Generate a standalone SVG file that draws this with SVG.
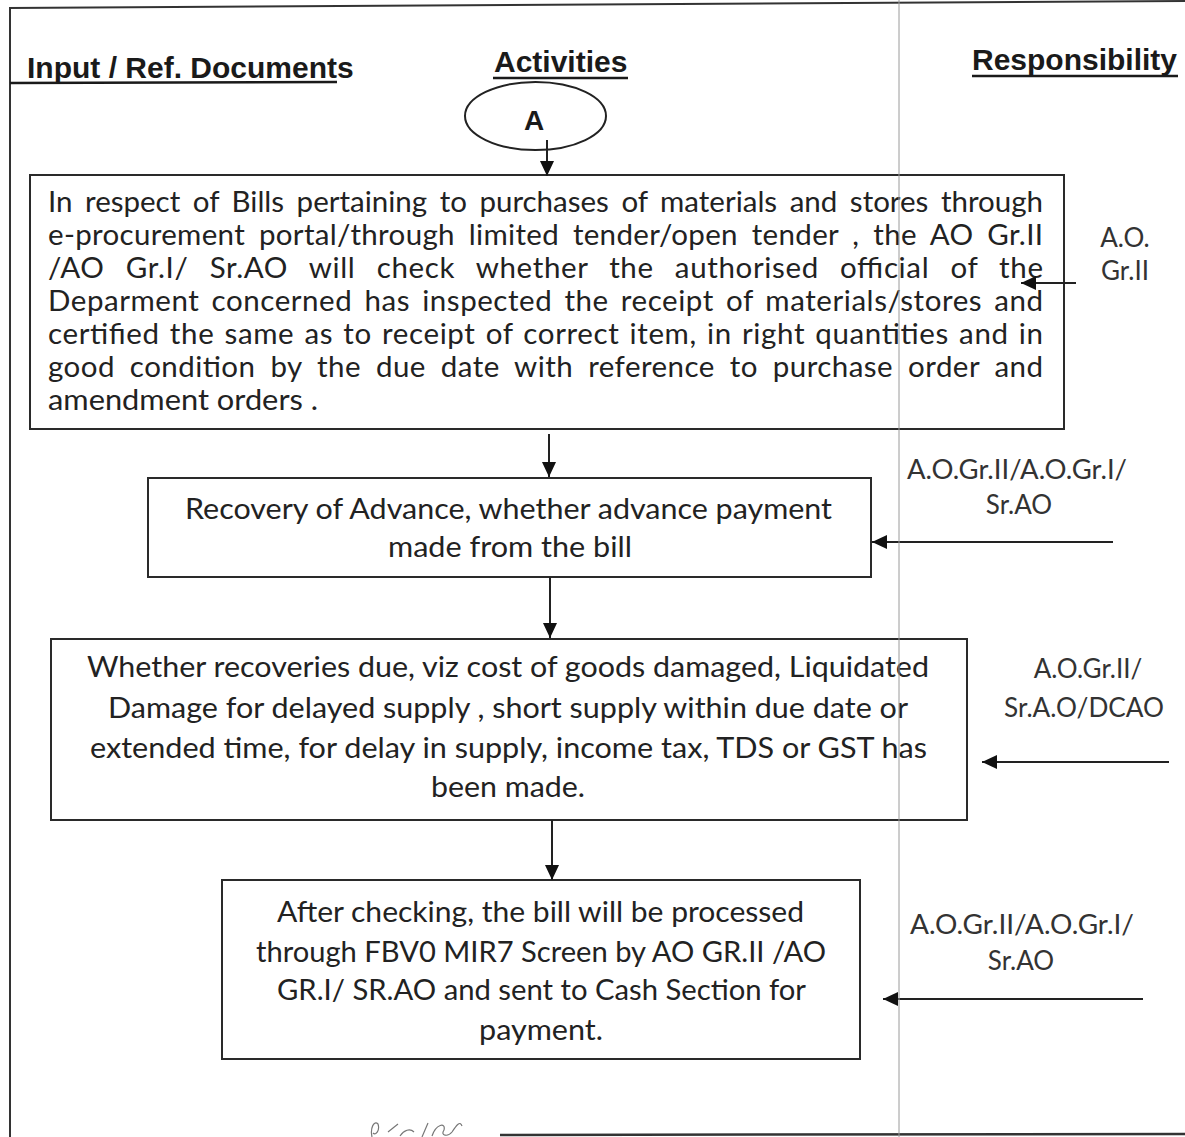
<svg xmlns="http://www.w3.org/2000/svg" width="1185" height="1137" viewBox="0 0 1185 1137">
<defs>
<style>
.hdr{font-family:"Liberation Sans",Arial,sans-serif;font-weight:bold;font-size:30px;fill:#1a1a1a}
.ul{stroke:#1a1a1a;stroke-width:2.5}
.box{fill:none;stroke:#2a2a2a;stroke-width:2}
.t{font-family:Lato,"Open Sans",sans-serif;fill:#222}
.b1{font-size:29.5px}
.b2{font-size:29px}
.rs{font-family:Lato,"Open Sans",sans-serif;font-size:26px;fill:#333;text-anchor:middle}
.c{text-anchor:middle}
.con{stroke:#222;stroke-width:2;fill:none}
.frame{stroke:#333;stroke-width:2;fill:none}
</style>
<marker id="ah" markerUnits="userSpaceOnUse" markerWidth="16" markerHeight="14" refX="15" refY="7" orient="auto">
<path d="M0,0 L15,7 L0,14 z" fill="#111"/>
</marker>
</defs>
<rect width="1185" height="1137" fill="#ffffff"/>
<g id="frame">
<line class="frame" x1="9" y1="8" x2="1185" y2="1"/>
<line class="frame" x1="10" y1="7" x2="10" y2="1137"/>
<line x1="500" y1="1135" x2="1185" y2="1134" stroke="#333" stroke-width="2.5"/>
<path d="M372,1137 C370,1128 374,1120 378,1124 C380,1130 376,1136 373,1133 M388,1132 L398,1124 M400,1136 C404,1130 410,1128 414,1132 M422,1137 L428,1123 M432,1136 C436,1124 446,1122 444,1130 C440,1136 448,1137 452,1132 C456,1126 460,1120 462,1126" stroke="#777" stroke-width="1.2" fill="none"/>
</g>
<g id="headers">
<text class="hdr" x="27" y="78">Input / Ref. Documents</text>
<line class="ul" x1="10" y1="83" x2="337" y2="82"/>
<text class="hdr" x="494" y="72">Activities</text>
<line class="ul" x1="493" y1="78" x2="628" y2="78"/>
<text class="hdr" x="972" y="70">Responsibility</text>
<line class="ul" x1="972" y1="76" x2="1178" y2="76"/>
</g>
<g id="nodeA">
<ellipse cx="535.5" cy="116" rx="70.5" ry="34" fill="none" stroke="#222" stroke-width="2"/>
<text x="534" y="130" font-family="'Liberation Sans',Arial,sans-serif" font-weight="bold" font-size="28" fill="#1a1a1a" text-anchor="middle">A</text>
</g>
<g id="box1">
<rect class="box" x="30" y="175" width="1034" height="254"/>
<text class="t b1" x="48" y="212" word-spacing="5" textLength="995" lengthAdjust="spacing">In respect of Bills pertaining to purchases of materials and stores through</text>
<text class="t b1" x="48" y="245" word-spacing="6" textLength="995" lengthAdjust="spacing">e-procurement portal/through limited tender/open tender , the AO Gr.II</text>
<text class="t b1" x="48" y="278" word-spacing="13" textLength="995" lengthAdjust="spacing">/AO Gr.I/ Sr.AO will check whether the authorised official of the</text>
<text class="t b1" x="48" y="311" word-spacing="4" textLength="995" lengthAdjust="spacing">Deparment concerned has inspected the receipt of materials/stores and</text>
<text class="t b1" x="48" y="344" word-spacing="2" textLength="995" lengthAdjust="spacing">certified the same as to receipt of correct item, in right  quantities and in</text>
<text class="t b1" x="48" y="377" word-spacing="7" textLength="995" lengthAdjust="spacing">good condition by the due date with reference to purchase order and</text>
<text class="t b1" x="48" y="410" textLength="270" lengthAdjust="spacingAndGlyphs">amendment orders .</text>
</g>
<g id="box2">
<rect class="box" x="148" y="478" width="723" height="99"/>
<text class="t b2 c" x="508.5" y="519" textLength="647" lengthAdjust="spacingAndGlyphs">Recovery of Advance, whether advance payment</text>
<text class="t b2 c" x="510" y="557" textLength="244" lengthAdjust="spacingAndGlyphs">made from the bill</text>
</g>
<g id="box3">
<rect class="box" x="51" y="639" width="916" height="181"/>
<text class="t b2 c" x="508" y="677" textLength="842" lengthAdjust="spacingAndGlyphs">Whether recoveries due, viz cost of goods damaged, Liquidated</text>
<text class="t b2 c" x="508" y="718" textLength="800" lengthAdjust="spacingAndGlyphs">Damage for delayed supply , short supply within due date or</text>
<text class="t b2 c" x="508.5" y="758" textLength="837" lengthAdjust="spacingAndGlyphs">extended time, for delay in supply, income tax, TDS  or GST has</text>
<text class="t b2 c" x="508" y="797" textLength="154" lengthAdjust="spacingAndGlyphs">been made.</text>
</g>
<g id="box4">
<rect class="box" x="222" y="880" width="638" height="179"/>
<text class="t b2 c" x="540.5" y="922" textLength="527" lengthAdjust="spacingAndGlyphs">After checking, the bill will be processed</text>
<text class="t b2 c" x="541" y="962" textLength="570" lengthAdjust="spacingAndGlyphs">through FBV0 MIR7 Screen by AO GR.II /AO</text>
<text class="t b2 c" x="541.5" y="1000" textLength="529" lengthAdjust="spacingAndGlyphs">GR.I/ SR.AO and sent to Cash Section for</text>
<text class="t b2 c" x="541" y="1040" textLength="124" lengthAdjust="spacingAndGlyphs">payment.</text>
</g>
<g id="resp1">
<text class="rs" x="1125" y="247">A.O.</text>
<text class="rs" x="1125" y="280">Gr.II</text>
</g>
<g id="resp2">
<text class="rs" x="1017" y="479" textLength="220" lengthAdjust="spacingAndGlyphs">A.O.Gr.II/A.O.Gr.I/</text>
<text class="rs" x="1019" y="514">Sr.AO</text>
</g>
<g id="resp3">
<text class="rs" x="1088" y="678">A.O.Gr.II/</text>
<text class="rs" x="1084" y="717" textLength="160" lengthAdjust="spacingAndGlyphs">Sr.A.O/DCAO</text>
</g>
<g id="resp4">
<text class="rs" x="1022" y="934" textLength="224" lengthAdjust="spacingAndGlyphs">A.O.Gr.II/A.O.Gr.I/</text>
<text class="rs" x="1021" y="970">Sr.AO</text>
</g>
<g id="connectors">
<line class="con" x1="547" y1="140" x2="547" y2="176" marker-end="url(#ah)"/>
<line class="con" x1="549" y1="434" x2="549" y2="477" marker-end="url(#ah)"/>
<line class="con" x1="550" y1="577" x2="550" y2="638" marker-end="url(#ah)"/>
<line class="con" x1="552" y1="820" x2="552" y2="880" marker-end="url(#ah)"/>
<line class="con" x1="1076" y1="283" x2="1021" y2="283" marker-end="url(#ah)"/>
<line class="con" x1="1113" y1="542" x2="872" y2="542" marker-end="url(#ah)"/>
<line class="con" x1="1169" y1="762" x2="982" y2="762" marker-end="url(#ah)"/>
<line class="con" x1="1143" y1="999" x2="883" y2="999" marker-end="url(#ah)"/>
</g>
<g id="column-divider">
<line x1="899" y1="0" x2="899" y2="1137" stroke="#9a9a9a" stroke-width="1"/>
</g>
</svg>
